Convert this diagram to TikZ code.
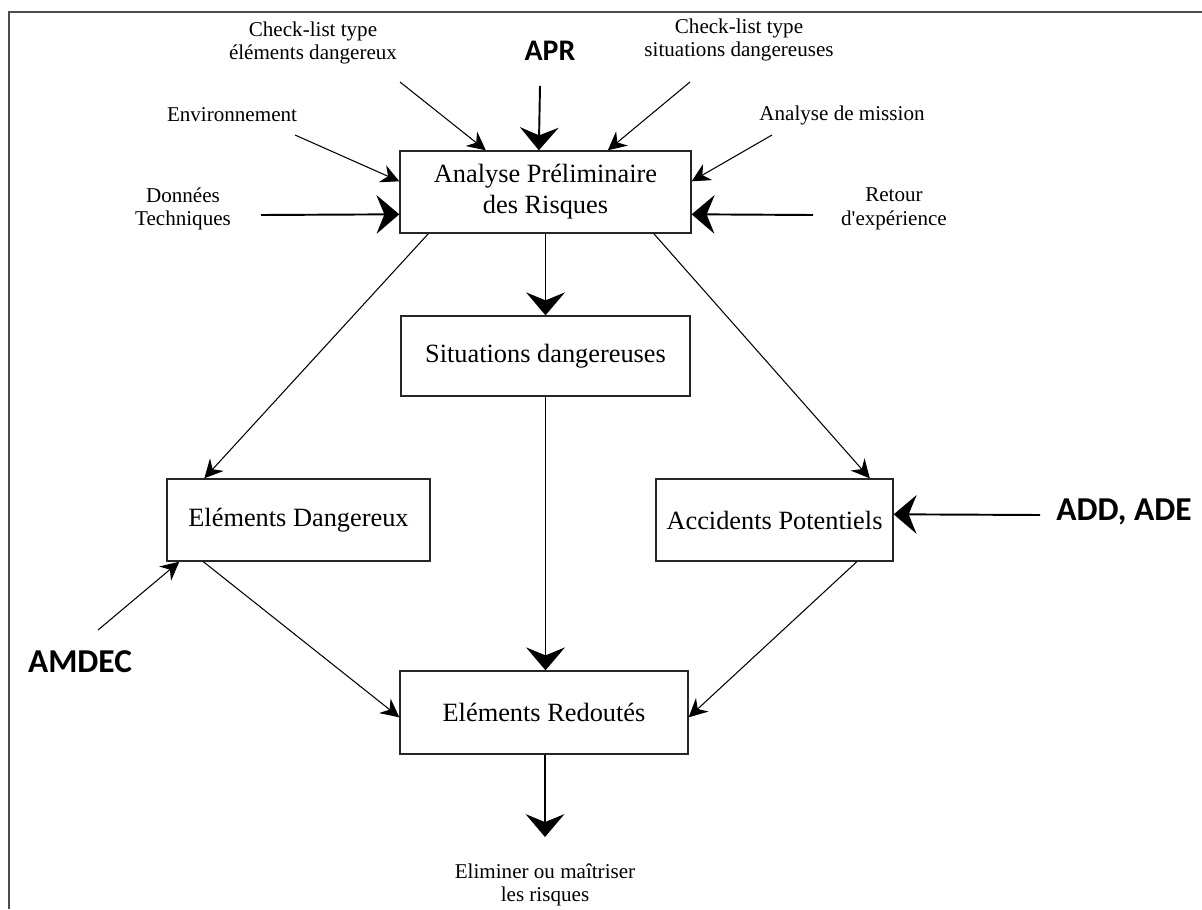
\documentclass[tikz,border=0pt]{standalone}
\usepackage{fontspec}
\setmainfont{Liberation Serif}
\newfontfamily\labelsans{Carlito}
\usetikzlibrary{arrows.meta,calc}

\begin{document}
\begin{tikzpicture}[x=0.02cm,y=-0.02cm,
  box/.style={draw=black!85, line width=0.8pt, inner sep=0pt, align=center,
    font=\fontsize{15}{17.5}\selectfont},
  inlabel/.style={align=center, inner sep=0pt, font=\fontsize{12}{13.5}\selectfont},
  boldlabel/.style={inner sep=0pt, font=\labelsans\bfseries\fontsize{17}{20}\selectfont},
  biglabel/.style={inner sep=0pt, font=\labelsans\bfseries\fontsize{19}{22}\selectfont},
  heavy/.style={line width=1.1pt, -{Stealth[length=13pt,width=22pt,inset=4.5pt]}},
  light/.style={line width=0.6pt, -{Stealth[length=10.5pt,width=10.5pt,inset=3.5pt]}},
]
\useasboundingbox (0,0) rectangle (1202,909);

% frame (top and left rules)
\draw[line width=1.2pt, black!70] (9,909) -- (9,12) -- (1202,12);

% boxes
\node[box, minimum width=5.82cm, minimum height=1.64cm] (apr) at (545.5,192)
  {Analyse Préliminaire\\des Risques};
\node[box, minimum width=5.78cm, minimum height=1.60cm] (sit) at (545.5,356)
  {Situations dangereuses};
\node[box, minimum width=5.26cm, minimum height=1.64cm] (ed) at (298.5,520)
  {Eléments Dangereux};
\node[box, minimum width=4.74cm, minimum height=1.64cm] (ap) at (774.5,520)
  {Accidents Potentiels};
\node[box, minimum width=5.76cm, minimum height=1.66cm] (er) at (544,712.5)
  {Eléments Redoutés};

% input labels
\node[inlabel] (lced) at (313,43) {Check-list type\\éléments dangereux};
\node[boldlabel] (lapr) at (550,51) {APR};
\node[inlabel] (lcsd) at (739,40) {Check-list type\\situations dangereuses};
\node[inlabel] (lenv) at (232,115) {Environnement};
\node[inlabel] (lmis) at (842,115) {Analyse de mission};
\node[inlabel] (ldon) at (183,209) {Données\\Techniques};
\node[inlabel] (lret) at (894,209) {Retour\\d\textquotesingle expérience};
\node[biglabel] (lamdec) at (80,662) {AMDEC};
\node[biglabel] (ladd) at (1124,512) {ADD, ADE};
\node[inlabel] (lout) at (545,885) {Eliminer ou maîtriser\\les risques};

% free ends of the input arrows
\coordinate (sced) at (400,82);
\coordinate (sapr) at (540,86);
\coordinate (scsd) at (690,82);
\coordinate (senv) at (295,135);
\coordinate (smis) at (772,135);
\coordinate (sdon) at (261,215);
\coordinate (sret) at (813,215);
\coordinate (samdec) at (98,630);
\coordinate (sadd) at (1040,515);
\coordinate (eout) at (545,837);

% inputs to the preliminary analysis
\draw[light] (sced) -- ($(apr.north west)+(86.5,0)$);
\draw[heavy] (sapr) -- ($(apr.north west)+(139.5,0)$);
\draw[light] (scsd) -- ($(apr.north west)+(208.5,0)$);
\draw[light] (senv) -- ($(apr.north west)+(0,31)$);
\draw[light] (smis) -- ($(apr.north east)+(0,31)$);
\draw[heavy] (sdon) -- ($(apr.north west)+(0,64)$);
\draw[heavy] (sret) -- ($(apr.north east)+(0,64)$);

% main flow
\draw[heavy] (apr.south) -- (sit.north);
\draw[light] ($(apr.south west)+(29,0)$) -- ($(ed.north west)+(38,0)$);
\draw[light] ($(apr.south west)+(254.5,0)$) -- ($(ap.north west)+(214.5,0)$);
\draw[heavy] (sit.south) -- (sit.south |- er.north);
\draw[light] ($(ed.south west)+(37,0)$) -- ($(er.north west)+(0,47)$);
\draw[light] ($(ap.south west)+(201.5,0)$) -- ($(er.north east)+(0,47)$);
\draw[heavy] (er.south -| eout) -- (eout);

% side inputs
\draw[light] (samdec) -- ($(ed.south west)+(13,0)$);
\draw[heavy] (sadd) -- ($(ap.north east)+(0,36)$);
\end{tikzpicture}
\end{document}
